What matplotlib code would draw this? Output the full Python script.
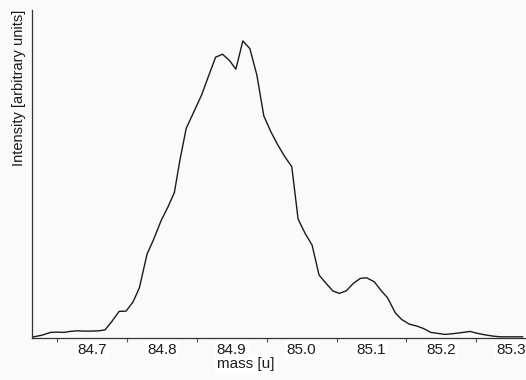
import matplotlib
matplotlib.use("Agg")
import matplotlib.pyplot as plt
import numpy as np

plt.rcParams["font.family"] = ["Liberation Sans", "DejaVu Sans"]

# mass values [u]
mass = [
    84.615, 84.629, 84.641, 84.650, 84.660, 84.669, 84.679, 84.688, 84.698,
    84.710, 84.719, 84.729, 84.739, 84.749, 84.759, 84.768, 84.779, 84.788,
    84.799, 84.809, 84.818, 84.826, 84.835, 84.845, 84.857, 84.867, 84.877,
    84.887, 84.897, 84.906, 84.916, 84.926, 84.936, 84.946, 84.956, 84.966,
    84.976, 84.986, 84.995, 85.005, 85.015, 85.025, 85.035, 85.045, 85.054,
    85.064, 85.074, 85.084, 85.093, 85.104, 85.114, 85.123, 85.134, 85.143,
    85.154, 85.165, 85.174, 85.185, 85.195, 85.205, 85.215, 85.231, 85.241,
    85.250, 85.262, 85.274, 85.284, 85.295, 85.316,
]

# intensity, arbitrary units
intensity = [
    0.7, 2.7, 5.4, 5.7, 5.4, 6.4, 7.0, 6.7, 6.7,
    7.0, 8.0, 16.7, 26.4, 26.7, 36.0, 50.0, 83.7, 97.7,
    117.0, 131.0, 145.0, 177.7, 209.4, 224.4, 242.7, 261.7, 280.4,
    283.4, 277.0, 268.4, 296.7, 289.0, 262.7, 221.7, 206.0, 192.7,
    181.0, 171.0, 118.7, 104.4, 92.7, 62.7, 54.4, 46.7, 44.4,
    47.0, 54.4, 59.4, 60.0, 56.0, 47.0, 40.0, 25.0, 18.4,
    13.7, 11.7, 9.4, 5.4, 4.4, 3.4, 4.0, 5.4, 6.4,
    4.7, 3.0, 1.7, 1.0, 1.0, 1.0,
]

tick_vals = [84.7, 84.8, 84.9, 85.0, 85.1, 85.2, 85.3]
tick_text = ["84.7", "84.8", "84.9", "85.0", "85.1", "85.2", "85.3"]

bg = "#fafafa"
fig = plt.figure(figsize=(5.26, 3.80), dpi=100, facecolor=bg)
ax = fig.add_axes((0.0603, 0.111, 0.9397, 0.863))
ax.set_facecolor(bg)

ax.plot(mass, intensity, color="#1a1a1a", lw=1.0)

ax.set_xlim(84.614, 85.321)
ax.set_ylim(0, 327.7)

ax.spines["top"].set_visible(False)
ax.spines["right"].set_visible(False)
for s in ("left", "bottom"):
    ax.spines[s].set_color("#333333")
    ax.spines[s].set_linewidth(0.9)

ax.set_yticks([])
ax.set_xticks(tick_vals)
ax.set_xticklabels(tick_text)
ax.set_xticks(np.array(tick_vals) - 0.05, minor=True)
ax.tick_params(axis="x", which="major", length=0, pad=3.5, labelsize=11,
               colors="#1a1a1a")
ax.tick_params(axis="x", which="minor", length=3, width=0.8, color="#555555",
               direction="out")
for lab in ax.get_xticklabels():
    lab.set_bbox(dict(facecolor="white", edgecolor="none", pad=1.5))

fig.text(245.7 / 526, 1 - 364 / 380, "mass [u]", ha="center", va="center",
         fontsize=11, color="#1a1a1a",
         bbox=dict(facecolor="white", edgecolor="none", pad=1.5))
fig.text(19 / 526, 1 - 10 / 380, "Intensity [arbitrary units]", rotation=90,
         ha="center", va="top", fontsize=10.5, color="#1a1a1a")

fig.savefig("out.png", dpi=100, facecolor=bg)
